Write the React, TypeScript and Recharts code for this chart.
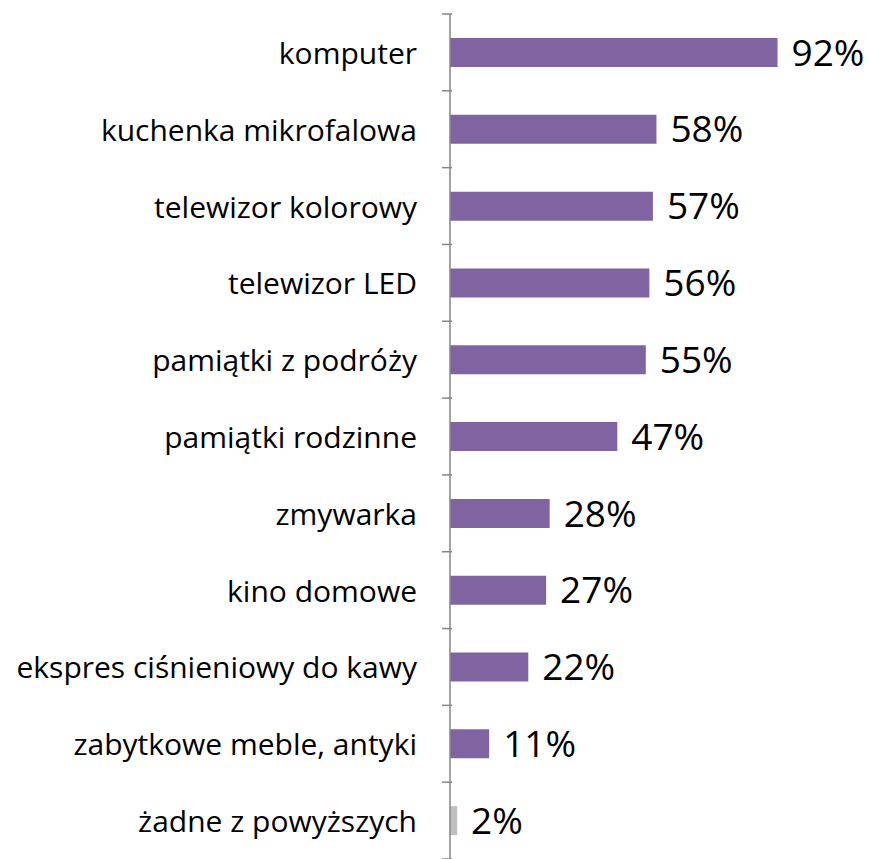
import React from 'react';
import { BarChart, Bar, XAxis, YAxis, Cell, LabelList } from 'recharts';

const categories = [
  'komputer',
  'kuchenka mikrofalowa',
  'telewizor kolorowy',
  'telewizor LED',
  'pamiątki z podróży',
  'pamiątki rodzinne',
  'zmywarka',
  'kino domowe',
  'ekspres ciśnieniowy do kawy',
  'zabytkowe meble, antyki',
  'żadne z powyższych',
];
const values = [92, 58, 57, 56, 55, 47, 28, 27, 22, 11, 2];
const colors = ['#8064A2', '#8064A2', '#8064A2', '#8064A2', '#8064A2', '#8064A2', '#8064A2', '#8064A2', '#8064A2', '#8064A2', '#BFBFBF'];

const data = categories.map((name, i) => ({ name, value: values[i], color: colors[i] }));

const AXIS_COLOR = '#868686';
const FONT = '"Open Sans", "Noto Sans", sans-serif';

const CategoryTick = (props: any) => {
  const { x, y, payload, index } = props;
  const half = payload && payload.offset ? payload.offset : 38.4;
  const axisX = x + 10;
  return (
    <g>
      <line x1={axisX - 10} x2={axisX} y1={y - half} y2={y - half} stroke={AXIS_COLOR} strokeWidth={1.5} />
      {index === categories.length - 1 && (
        <line x1={axisX - 10} x2={axisX} y1={y + half} y2={y + half} stroke={AXIS_COLOR} strokeWidth={1.5} />
      )}
      <text x={x - 25} y={y} textAnchor="end" dominantBaseline="central" fontSize={30} fontFamily={FONT} fill="#000">
        {payload.value}
      </text>
    </g>
  );
};

export default function App() {
  return (
    <div style={{ position: 'absolute', left: 0, top: 0, width: 871, height: 859, background: '#fff' }}>
      <BarChart
        width={871}
        height={859}
        data={data}
        layout="vertical"
        margin={{ top: 14, right: 65, bottom: 0, left: 0 }}
        barCategoryGap={0}
      >
        <XAxis type="number" domain={[0, 100]} hide />
        <YAxis
          type="category"
          dataKey="name"
          width={450}
          axisLine={{ stroke: AXIS_COLOR, strokeWidth: 1.5 }}
          tickLine={false}
          tick={<CategoryTick />}
          interval={0}
        />
        <Bar dataKey="value" barSize={29} isAnimationActive={false}>
          {data.map((d, i) => (
            <Cell key={i} fill={d.color} />
          ))}
          <LabelList
            dataKey="value"
            position="right"
            offset={14}
            formatter={(v: any) => `${v}%`}
            style={{ fontSize: 37, fontFamily: FONT, fill: '#000' }}
          />
        </Bar>
      </BarChart>
    </div>
  );
}
